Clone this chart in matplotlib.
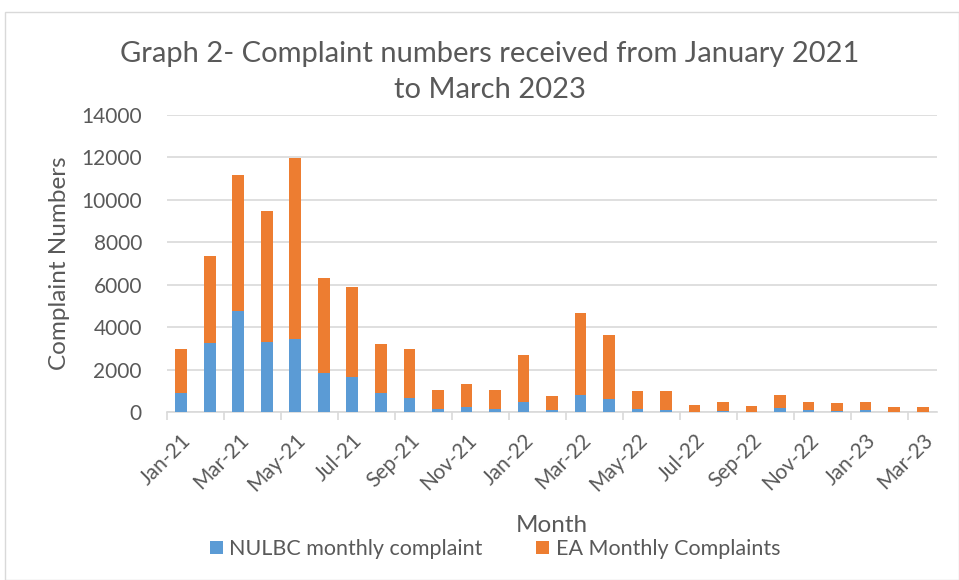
import numpy as np
import matplotlib
matplotlib.use("Agg")
import matplotlib.pyplot as plt
import matplotlib.patches as mpatches

plt.rcParams['font.family'] = ['Lato', 'DejaVu Sans']

###################################################################
# Data
###################################################################
months = ["Jan-21", "Feb-21", "Mar-21", "Apr-21", "May-21", "Jun-21", "Jul-21",
          "Aug-21", "Sep-21", "Oct-21", "Nov-21", "Dec-21", "Jan-22", "Feb-22",
          "Mar-22", "Apr-22", "May-22", "Jun-22", "Jul-22", "Aug-22", "Sep-22",
          "Oct-22", "Nov-22", "Dec-22", "Jan-23", "Feb-23", "Mar-23"]
nulbc = [900, 3250, 4780, 3280, 3420, 1850, 1650, 880, 650, 150, 250, 150, 480,
         100, 820, 600, 150, 80, 20, 30, 20, 170, 80, 50, 110, 10, 20]
ea = [2050, 4100, 6370, 6200, 8530, 4450, 4230, 2320, 2300, 880, 1050, 900, 2200,
      640, 3830, 3030, 820, 910, 330, 450, 240, 610, 380, 380, 350, 240, 230]

blue = "#5B9BD5"
orange = "#ED7D31"
grey_txt = "#595959"

###################################################################
# Figure
###################################################################
fig = plt.figure(figsize=(9.59, 5.8), dpi=100)
fig.patches.append(mpatches.Rectangle((5/959, 0), 1 - 5/959, 1 - 12/580,
                                      transform=fig.transFigure, fill=False,
                                      edgecolor="#d9d9d9", linewidth=1))

ax = fig.add_axes([0.1741, 0.2897, 0.8029, 0.512])

x = np.arange(len(months))
ax.bar(x, nulbc, width=0.41, color=blue, label="NULBC monthly complaint", zorder=3)
ax.bar(x, ea, width=0.41, bottom=nulbc, color=orange,
       label="EA Monthly Complaints", zorder=3)

ax.set_xlim(-0.5, len(months) - 0.5)
ax.set_ylim(0, 14000)
ax.set_yticks(np.arange(0, 14001, 2000))
ax.yaxis.grid(True, color="#d9d9d9", linewidth=1.2, zorder=0)
ax.tick_params(axis="y", length=0, labelsize=15, labelcolor=grey_txt, pad=18)

ax.set_xticks(x[::2])
ax.set_xticklabels(months[::2], rotation=45, ha="right", rotation_mode="anchor")
ax.set_xticks(np.arange(-0.5, len(months), 2), minor=True)
ax.tick_params(axis="x", which="major", length=0, labelsize=15,
               labelcolor=grey_txt, pad=13)
ax.tick_params(axis="x", which="minor", length=6, color="#d9d9d9", width=1.2)

for s in ["top", "right", "left"]:
    ax.spines[s].set_visible(False)
ax.spines["bottom"].set_color("#d9d9d9")
ax.spines["bottom"].set_linewidth(1.2)

ax.set_ylabel("Complaint Numbers", fontsize=17.5, color=grey_txt, labelpad=8)
fig.text(552/959, 1 - 525/580, "Month", fontsize=17.5, color=grey_txt,
         ha="center", va="center")

fig.text(490/959, 1 - 72/580,
         "Graph 2- Complaint numbers received from January 2021\nto March 2023",
         fontsize=21, color=grey_txt, ha="center", va="center", linespacing=1.45)

fig.legend(loc="center", bbox_to_anchor=(495/959, 1 - 549/580), ncol=2,
           frameon=False, fontsize=15.5, labelcolor=grey_txt, handlelength=0.6,
           handleheight=0.6, handletextpad=0.3, columnspacing=2.5)

fig.savefig("out.png", dpi=100)
